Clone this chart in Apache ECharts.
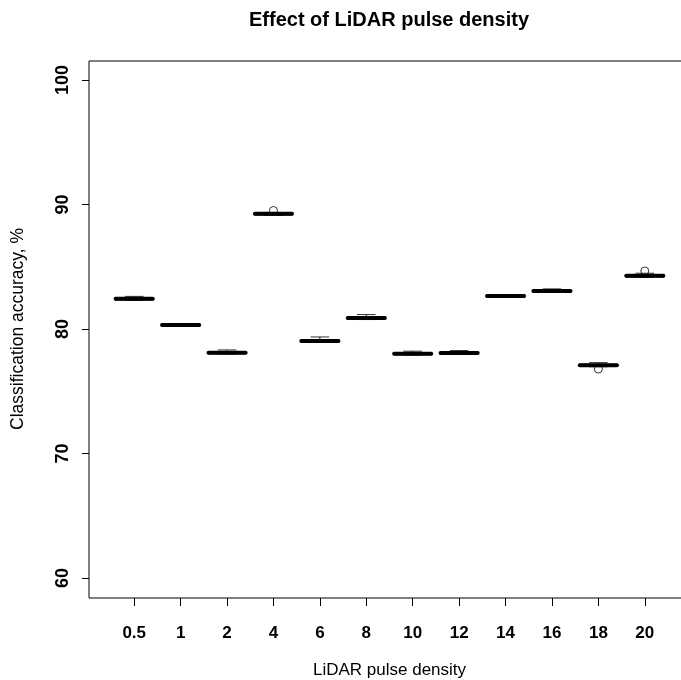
<!DOCTYPE html>
<html>
<head>
<meta charset="utf-8">
<script src="https://cdn.jsdelivr.net/npm/echarts@6/dist/echarts.min.js"></script>
<style>
  html, body { margin: 0; padding: 0; background: #fff; }
  #chart { width: 681px; height: 680px; }
</style>
</head>
<body>
<div id="chart"></div>
<script>
// pulse density groups
const categories = ['0.5', '1', '2', '4', '6', '8', '10', '12', '14', '16', '18', '20'];

// box stats (classification accuracy, %)
const lowWhisker  = [82.30, 80.24, 77.99, 89.13, 78.92, 80.76, 77.91, 77.96, 82.55, 82.94, 76.97, 84.15];
const lowerQ      = [82.34, 80.27, 78.03, 89.18, 78.96, 80.81, 77.95, 78.01, 82.59, 82.99, 77.01, 84.20];
const medians     = [82.42, 80.33, 78.10, 89.25, 79.03, 80.88, 78.02, 78.08, 82.65, 83.05, 77.08, 84.27];
const upperQ      = [82.49, 80.39, 78.16, 89.31, 79.09, 80.94, 78.08, 78.14, 82.71, 83.11, 77.15, 84.34];
const highWhisker = [82.62, 80.43, 78.32, 89.36, 79.36, 81.16, 78.22, 78.27, 82.76, 83.22, 77.30, 84.48];

const outlierCats = ['4', '18', '20'];
const outlierVals = [89.52, 76.78, 84.66];

const yTicks = [60, 70, 80, 90, 100];

const FONT = '"Liberation Sans", Arial, Helvetica, sans-serif';

const boxData = categories.map((c, i) =>
  [i, lowWhisker[i], lowerQ[i], medians[i], upperQ[i], highWhisker[i]]);
const outlierData = outlierCats.map((c, i) => [c, outlierVals[i]]);

// R-style box: thin box, thick median, dashed whiskers, half-width staples
function renderBox(params, api) {
  const idx = api.value(0);
  const half = api.size([1, 0])[0] * 0.4;
  const lo = api.coord([idx, api.value(1)]);
  const q1 = api.coord([idx, api.value(2)]);
  const md = api.coord([idx, api.value(3)]);
  const q3 = api.coord([idx, api.value(4)]);
  const hi = api.coord([idx, api.value(5)]);
  const x = md[0];
  const thin = { stroke: '#333', lineWidth: 1 };
  const dashed = { stroke: '#000', lineWidth: 1, lineDash: [4, 3] };
  return {
    type: 'group',
    children: [
      { type: 'line', shape: { x1: x, y1: q3[1], x2: x, y2: hi[1] }, style: dashed },
      { type: 'line', shape: { x1: x, y1: q1[1], x2: x, y2: lo[1] }, style: dashed },
      { type: 'line', shape: { x1: x - half / 2, y1: hi[1], x2: x + half / 2, y2: hi[1] }, style: thin },
      { type: 'line', shape: { x1: x - half / 2, y1: lo[1], x2: x + half / 2, y2: lo[1] }, style: thin },
      { type: 'rect', shape: { x: x - half, y: q3[1], width: half * 2, height: q1[1] - q3[1] },
        style: { fill: '#fff', stroke: '#000', lineWidth: 1.5 } },
      { type: 'line', shape: { x1: x - half, y1: md[1], x2: x + half, y2: md[1] },
        style: { stroke: '#000', lineWidth: 4, lineCap: 'round' } }
    ]
  };
}

const chart = echarts.init(document.getElementById('chart'), null, { renderer: 'canvas' });

const option = {
  animation: false,
  backgroundColor: '#fff',
  title: {
    text: 'Effect of LiDAR pulse density',
    left: 389,
    top: 10,
    padding: 0,
    textAlign: 'center',
    textStyle: { fontFamily: FONT, fontSize: 20, fontWeight: 'bold', color: '#000' }
  },
  grid: [
    // data grid: category centres line up with the R box positions
    { left: 111, right: 13, top: 80, bottom: 102, outerBoundsMode: 'none', containLabel: false },
    // plot frame, running off the right edge as in the source image
    { left: 89, right: -30, top: 61, bottom: 82, show: true, borderColor: '#000', borderWidth: 1,
      backgroundColor: 'transparent', outerBoundsMode: 'none', containLabel: false }
  ],
  xAxis: [
    {
      type: 'category',
      gridIndex: 0,
      data: categories,
      offset: 20,
      axisLine: { show: false },
      axisTick: { show: true, alignWithLabel: true, length: 8, lineStyle: { color: '#000' } },
      axisLabel: { margin: 27, fontFamily: FONT, fontSize: 17, fontWeight: 'bold', color: '#000' },
      splitLine: { show: false },
      name: 'LiDAR pulse density',
      nameLocation: 'middle',
      nameGap: 64,
      nameTextStyle: { fontFamily: FONT, fontSize: 17, color: '#000' }
    },
    { type: 'value', gridIndex: 1, show: false }
  ],
  yAxis: [
    {
      type: 'value',
      gridIndex: 0,
      min: yTicks[0],
      max: yTicks[yTicks.length - 1],
      interval: 10,
      offset: 22,
      axisLine: { show: false },
      axisTick: { show: true, length: 7, lineStyle: { color: '#000' } },
      axisLabel: { rotate: 90, margin: 17, fontFamily: FONT, fontSize: 18, fontWeight: 'bold', color: '#000' },
      splitLine: { show: false },
      name: 'Classification accuracy, %',
      nameLocation: 'middle',
      nameGap: 62,
      nameTextStyle: { fontFamily: FONT, fontSize: 17.5, color: '#000' }
    },
    { type: 'value', gridIndex: 1, show: false }
  ],
  series: [
    {
      type: 'custom',
      xAxisIndex: 0,
      yAxisIndex: 0,
      renderItem: renderBox,
      encode: { x: 0, y: [1, 2, 3, 4, 5] },
      data: boxData
    },
    {
      type: 'scatter',
      xAxisIndex: 0,
      yAxisIndex: 0,
      symbol: 'circle',
      symbolSize: 8,
      itemStyle: { color: 'transparent', borderColor: '#000', borderWidth: 1 },
      z: 5,
      data: outlierData
    }
  ]
};

chart.setOption(option);
</script>
</body>
</html>
